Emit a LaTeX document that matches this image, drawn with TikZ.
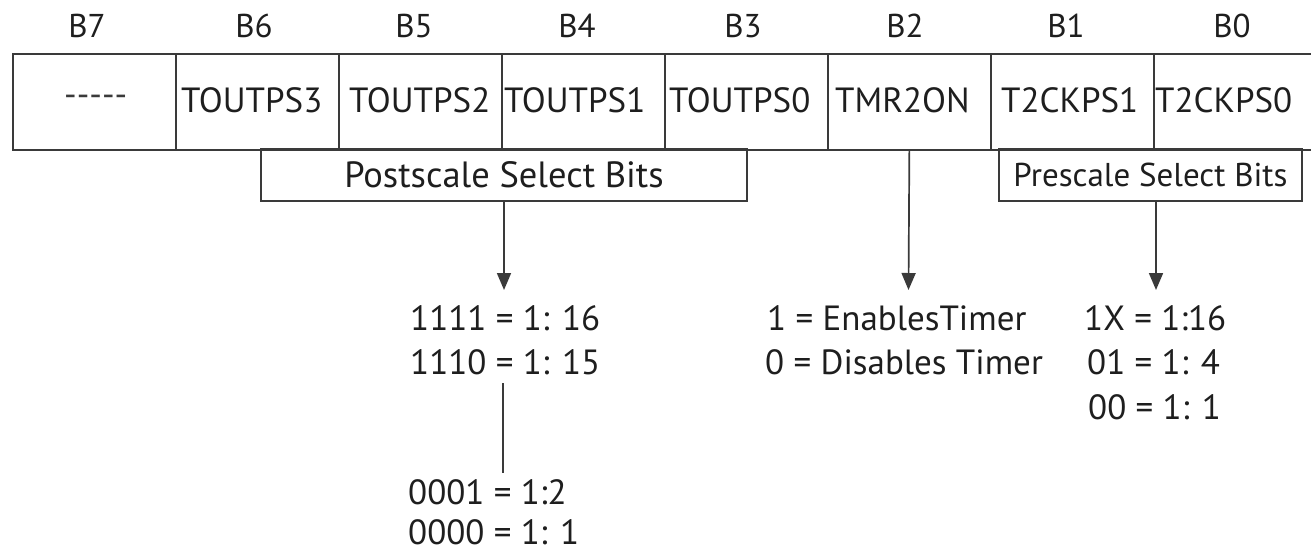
\documentclass[tikz,border=0pt]{standalone}
\usepackage{fontspec}
\setmainfont{PT Sans}
\usetikzlibrary{arrows.meta}
\definecolor{ink}{HTML}{1E1E1E}
\definecolor{rule}{HTML}{3A3A3A}
\tikzset{
  cell/.style={draw=rule, line width=1.7pt, minimum width=163pt, minimum height=96pt,
    inner sep=0pt, anchor=north west},
  celltext/.style={anchor=west, inner sep=0pt, text=ink, font=\fontsize{35}{42}\selectfont},
  bitlabel/.style={inner sep=0pt, text=ink, font=\fontsize{33}{38}\selectfont},
  groupbox/.style={draw=rule, line width=1.7pt, inner sep=0pt, minimum height=52pt, text=ink},
  valtext/.style={anchor=west, inner sep=0pt, text=ink, font=\fontsize{35}{44}\selectfont},
  link/.style={draw=rule, line width=1.7pt},
  arrowlink/.style={link, -{Triangle[width=14pt,length=17pt]}},
}
\begin{document}
\begin{tikzpicture}[x=1pt, y=-1pt]
  \useasboundingbox (0,0) rectangle (1311,552);

  % register cells B7 ... B0
  \foreach \i/\n in {0/b7,1/b6,2/b5,3/b4,4/b3,5/b2,6/b1,7/b0}
    \node[cell] (\n) at ({12+163*\i},53) {};

  % bit numbers above the register
  \node[bitlabel] (l7) at (87,26) {B7};
  \node[bitlabel] (l6) at (254,26) {B6};
  \node[bitlabel] (l5) at (414,26) {B5};
  \node[bitlabel] (l4) at (577,26) {B4};
  \node[bitlabel] (l3) at (743,26) {B3};
  \node[bitlabel] (l2) at (905,26) {B2};
  \node[bitlabel] (l1) at (1066,26) {B1};
  \node[bitlabel] (l0) at (1232,26) {B0};

  % bit names
  \node[celltext, text=rule] (n7) at (64,101) {-{}-{}-{}-{}-};
  \node[celltext] (n6) at (181,100) {TOUTPS3};
  \node[celltext] (n5) at (349,100) {TOUTPS2};
  \node[celltext] (n4) at (504,100) {TOUTPS1};
  \node[celltext] (n3) at (669,100) {TOUTPS0};
  \node[celltext] (n2) at (835,100) {TMR2ON};
  \node[celltext] (n1) at (1001,100) {T2CKPS1};
  \node[celltext] (n0) at (1155,100) {T2CKPS0};

  % bit groups
  \node[groupbox, minimum width=486pt, font=\fontsize{36.5}{42}\selectfont] (post) at (504,175)
    {Postscale Select Bits};
  \node[groupbox, minimum width=303pt, font=\fontsize{33}{38}\selectfont] (pre) at (1150.5,175)
    {Prescale Select Bits};

  % value tables
  \node[valtext] (p16) at (410,318) {1111 = 1: 16};
  \node[valtext] (p15) at (410,362) {1110 = 1: 15};
  \node[valtext] (p2)  at (408,492) {0001 = 1:2};
  \node[valtext] (p1)  at (408,532) {0000 = 1: 1};
  \node[valtext] (on)  at (767,318) {1 = EnablesTimer};
  \node[valtext] (off) at (765,362) {0 = Disables Timer};
  \node[valtext] (c16) at (1084,318) {1X = 1:16};
  \node[valtext] (c4)  at (1087,362) {01 = 1: 4};
  \node[valtext] (c1)  at (1088,407) {00 = 1: 1};

  % arrow ends and the elision line
  \coordinate (postend) at (504,290);
  \coordinate (tmrend) at (908.5,290);
  \coordinate (preend) at (1156,290);
  \coordinate (gaptop) at (503,383);
  \coordinate (gapbot) at (503,473);

  \draw[arrowlink] (post.south) -- (postend);
  \draw[arrowlink] (b2.south) -- (tmrend);
  \draw[arrowlink] (preend |- pre.south) -- (preend);
  \draw[link] (gaptop) -- (gapbot);
\end{tikzpicture}
\end{document}
